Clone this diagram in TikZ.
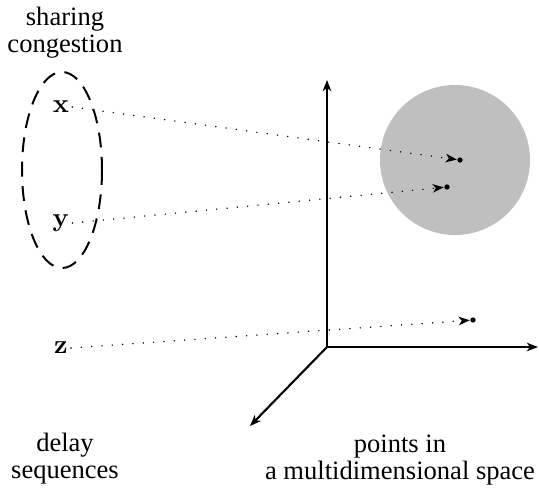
\documentclass[tikz,border=0pt]{standalone}
\usepackage[no-math]{fontspec}
\setmainfont{Liberation Serif}
\usetikzlibrary{positioning, shapes, arrows.meta}

\begin{document}
\begin{tikzpicture}[x=0.3766pt, y=-0.3766pt, >={Stealth[length=4.2pt, width=3.2pt, inset=1.2pt]}]
        \tikzstyle{caption} = [align=center, font=\fontsize{10}{10.2}\selectfont, inner sep=0pt]
        \tikzstyle{seq} = [inner sep=1pt, font=\normalsize]
        \tikzstyle{pt} = [circle, fill=black, inner sep=0pt, minimum size=2pt]
        \tikzstyle{map} = [->, dash pattern=on 0pt off 3.9pt, line cap=round, line width=0.6pt]
        \tikzstyle{axis} = [->, line width=0.8pt]

        \useasboundingbox (0,0) rectangle (539,489);

        % cluster of points in the space
        \fill [gray!50] (455,160) circle (75);

        % axes
        \coordinate (origin) at (327,347);
        \coordinate (up) at (327,80);
        \coordinate (right) at (538,347);
        \coordinate (front) at (250,426);
        \draw [axis] (origin) -- (up);
        \draw [axis] (origin) -- (right);
        \draw [axis] (origin) -- (front);

        % delay sequences
        \node [seq] (x) at (61,107) {$\mathbf{x}$};
        \node [seq] (y) at (61,223) {$\mathbf{y}$};
        \node [seq] (z) at (61,348) {$\mathbf{z}$};
        \draw [dash pattern=on 5.6pt off 3.6pt, line width=0.75pt] (62,170) ellipse (40 and 98);

        % mapped points
        \node [pt] (px) at (460,160) {};
        \node [pt] (py) at (447,187) {};
        \node [pt] (pz) at (473,320) {};

        \draw [map] (x.east) -- (px);
        \draw [map] (y.east) -- (py);
        \draw [map] (z.east) -- (pz);

        % captions
        \node [caption] (share) at (65,33) {sharing\\congestion};
        \node [caption] (delay) at (65,459) {delay\\sequences};
        \node [caption] (space) at (400,460) {points in\\a multidimensional space};

    \end{tikzpicture}
\end{document}
